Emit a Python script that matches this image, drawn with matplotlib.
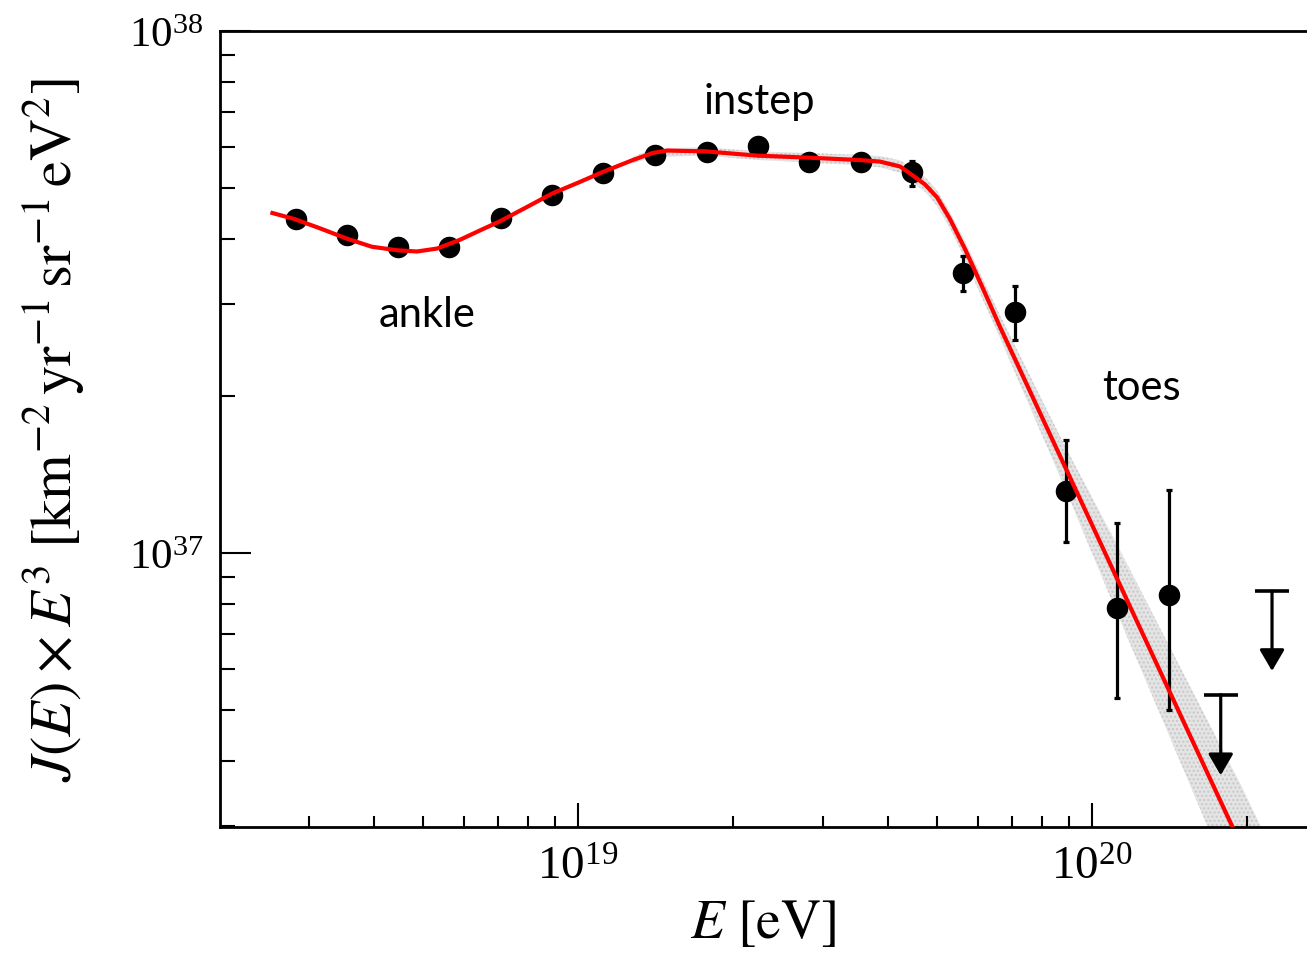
import matplotlib
matplotlib.use("Agg")
import matplotlib.pyplot as plt
from matplotlib.ticker import LogLocator, NullFormatter

# ---------------- data (flux values in units of 1e37) ----------------
E_points = [2.82e18, 3.55e18, 4.47e18, 5.62e18, 7.08e18, 8.91e18, 1.12e19, 1.41e19,
            1.78e19, 2.24e19, 2.82e19, 3.55e19, 4.47e19, 5.62e19, 7.08e19, 8.91e19,
            1.12e20, 1.41e20]
J_points = [4.36, 4.06, 3.85, 3.85, 4.38, 4.85, 5.35, 5.78, 5.86, 6.03, 5.61, 5.61,
            5.37, 3.44, 2.89, 1.315, 0.785, 0.832]
J_err_lo = [4.36, 4.06, 3.85, 3.85, 4.38, 4.85, 5.35, 5.78, 5.86, 6.03, 5.61, 5.61,
            5.04, 3.17, 2.56, 1.05, 0.528, 0.50]
J_err_hi = [4.36, 4.06, 3.85, 3.85, 4.38, 4.85, 5.35, 5.78, 5.86, 6.03, 5.61, 5.61,
            5.64, 3.70, 3.24, 1.644, 1.14, 1.32]

E_limits = [1.78e20, 2.24e20]
J_limits = [0.535, 0.845]
J_limit_tips = [0.375, 0.594]

E_fit = [2.52e18, 2.81e18, 3.16e18, 3.55e18, 3.97e18, 4.45e18, 4.86e18, 5.32e18,
         5.89e18, 6.45e18, 7.05e18, 7.92e18, 8.90e18, 1.00e19, 1.118e19, 1.279e19,
         1.399e19, 1.490e19, 1.766e19, 2.229e19, 2.790e19, 3.505e19, 3.868e19,
         4.232e19, 4.486e19, 4.733e19, 4.994e19, 5.293e19, 5.662e19, 6.109e19,
         6.622e19, 2.30e20]
J_fit = [4.49, 4.36, 4.18, 4.00, 3.86, 3.80, 3.78, 3.83, 3.98, 4.15, 4.32, 4.59,
         4.88, 5.12, 5.37, 5.66, 5.84, 5.90, 5.88, 5.77, 5.72, 5.66, 5.62, 5.50,
         5.28, 5.08, 4.80, 4.36, 3.82, 3.24, 2.71, 0.194]

E_band = [1.279e19, 1.399e19, 1.766e19, 2.229e19, 2.790e19, 3.505e19, 3.868e19,
          4.232e19, 4.486e19, 4.733e19, 4.994e19, 5.293e19, 5.662e19, 6.109e19,
          6.622e19, 8.86e19, 1.108e20, 1.399e20, 1.941e20, 2.30e20]
J_band_lo = [5.58, 5.73, 5.77, 5.66, 5.60, 5.53, 5.48, 5.35, 5.12, 4.92, 4.62, 4.18,
             3.65, 3.08, 2.58, 1.33, 0.784, 0.457, 0.213, 0.147]
J_band_hi = [5.74, 5.95, 5.99, 5.88, 5.84, 5.79, 5.76, 5.65, 5.44, 5.25, 4.95, 4.50,
             3.96, 3.38, 2.85, 1.60, 1.057, 0.676, 0.362, 0.256]

SCALE = 1e37
x_range = (2.01e18, 2.62e20)
y_range = (2.985e36, 1e38)

# ---------------- figure ----------------
plt.rcParams['font.family'] = 'serif'
plt.rcParams['font.serif'] = ['Liberation Serif', 'DejaVu Serif']
plt.rcParams['mathtext.fontset'] = 'stix'
fig = plt.figure(figsize=(13.07, 9.54), dpi=100)
ax = fig.add_axes([0.1683, 0.1321, 0.8317, 0.8344])
ax.set_xscale('log')
ax.set_yscale('log')
ax.set_xlim(*x_range)
ax.set_ylim(*y_range)

s = lambda arr: [v * SCALE for v in arr]

ax.fill_between(E_band, s(J_band_lo), s(J_band_hi), facecolor='#e4e4e4',
                edgecolor='#c8c8c8', hatch='....', linewidth=0, zorder=1)

yerr = [[p - lo for p, lo in zip(s(J_points), s(J_err_lo))],
        [hi - p for p, hi in zip(s(J_points), s(J_err_hi))]]
ax.errorbar(E_points, s(J_points), yerr=yerr, fmt='o', color='black',
            markersize=14.5, elinewidth=2.3, capsize=2.5, capthick=2.3, zorder=2)

for e, v, t in zip(E_limits, s(J_limits), s(J_limit_tips)):
    ax.plot([e], [v], marker='_', markersize=25, markeredgewidth=2.6,
            color='black', zorder=2)
    ax.annotate('', xy=(e, t), xytext=(e, v),
                arrowprops=dict(arrowstyle='-|>,head_length=0.65,head_width=0.38',
                                color='black', lw=2.3, mutation_scale=20,
                                shrinkA=0, shrinkB=0), zorder=2)

ax.plot(E_fit, s(J_fit), color='#ff0000', linewidth=3.0, zorder=3,
        solid_capstyle='butt')

# ---------------- annotations ----------------
tfont = dict(family='Lato', fontsize=30, color='black')
ax.text(5.08e18, 2.87e37, 'ankle', ha='center', va='center', **tfont)
ax.text(2.25e19, 7.35e37, 'instep', ha='center', va='center', **tfont)
ax.text(1.25e20, 2.08e37, 'toes', ha='center', va='center', **tfont)

# ---------------- axes styling ----------------
for side in ('left', 'bottom', 'top'):
    ax.spines[side].set_linewidth(2.0)
ax.spines['right'].set_visible(False)

ax.xaxis.set_major_locator(LogLocator(base=10, numticks=10))
ax.xaxis.set_minor_locator(LogLocator(base=10, subs=range(2, 10), numticks=20))
ax.yaxis.set_major_locator(LogLocator(base=10, numticks=10))
ax.yaxis.set_minor_locator(LogLocator(base=10, subs=range(2, 10), numticks=20))
ax.xaxis.set_minor_formatter(NullFormatter())
ax.yaxis.set_minor_formatter(NullFormatter())

ax.tick_params(which='both', direction='in', top=False, right=False, width=1.5)
ax.tick_params(axis='x', which='major', length=17, pad=14, labelsize=34)
ax.tick_params(axis='x', which='minor', length=8)
ax.tick_params(axis='y', which='major', length=22, pad=12, labelsize=31)
ax.tick_params(axis='y', which='minor', length=11)

ax.set_xlabel(r'$E\ [\mathrm{eV}]$', fontsize=40, labelpad=6)
ax.set_ylabel(r'$J(E)\times E^3\ [\mathrm{km}^{-2}\,\mathrm{yr}^{-1}\,\mathrm{sr}^{-1}\,\mathrm{eV}^{2}]$',
              fontsize=42, labelpad=30)

fig.savefig('out.png', dpi=100)
